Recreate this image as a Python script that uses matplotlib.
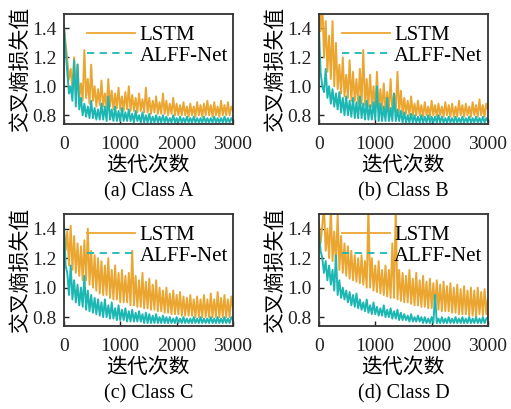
import numpy as np
import matplotlib
matplotlib.use("Agg")
import matplotlib.pyplot as plt
from matplotlib.lines import Line2D

plt.rcParams['font.family'] = ['Liberation Serif', 'Noto Sans CJK SC']

# colours
ORANGE = '#EAA631'
TEAL = '#1DB7B3'

# loss curves (x spread evenly over 0..3000 iterations)
lstm_a = [1.42, 1.30, 1.18, 1.05, 1.12, 0.98, 1.20, 0.95, 1.15, 0.92, 1.02, 0.90, 1.25, 0.92, 1.05, 0.88,
          1.15, 0.90, 1.00, 0.86, 0.98, 0.87, 1.04, 0.86, 0.95, 0.85, 1.05, 0.86, 0.97, 0.84, 0.95, 0.85,
          0.99, 0.84, 0.93, 0.83, 0.96, 0.84, 1.00, 0.83, 0.94, 0.83, 0.92, 0.82, 0.95, 0.83, 0.91, 0.82,
          0.99, 0.82, 0.92, 0.81, 0.90, 0.82, 0.93, 0.81, 0.89, 0.81, 0.95, 0.81, 0.90, 0.80, 0.88, 0.81,
          0.92, 0.80, 0.88, 0.80, 0.87, 0.80, 0.89, 0.80, 0.86, 0.79, 0.88, 0.80, 0.86, 0.79, 0.89, 0.80,
          0.87, 0.79, 0.88, 0.80, 0.90, 0.80, 0.87, 0.79, 0.89, 0.80, 0.86, 0.79, 0.90, 0.80, 0.87, 0.80,
          0.89, 0.80, 0.86, 0.83]
alff_a = [1.42, 1.25, 1.10, 0.95, 1.00, 0.90, 1.18, 0.86, 1.15, 0.84, 0.92, 0.80, 0.88, 0.79, 0.86, 0.78,
          0.90, 0.78, 0.85, 0.77, 0.84, 0.77, 0.88, 0.77, 0.86, 0.76, 0.93, 0.77, 0.84, 0.76, 0.86, 0.76,
          0.83, 0.76, 0.85, 0.76, 0.82, 0.76, 0.84, 0.76, 0.81, 0.75, 0.83, 0.76, 0.80, 0.75, 0.82, 0.75,
          0.80, 0.75, 0.81, 0.75, 0.79, 0.75, 0.80, 0.75, 0.79, 0.75, 0.80, 0.75, 0.79, 0.75, 0.78, 0.75,
          0.80, 0.75, 0.78, 0.75, 0.79, 0.75, 0.78, 0.75, 0.79, 0.75, 0.78, 0.75, 0.79, 0.75, 0.78, 0.75,
          0.78, 0.75, 0.79, 0.75, 0.78, 0.75, 0.78, 0.75, 0.79, 0.75, 0.78, 0.75, 0.78, 0.75, 0.79, 0.75,
          0.78, 0.75, 0.78, 0.76]

lstm_b = [1.55, 1.38, 1.60, 1.20, 1.45, 1.10, 1.35, 1.05, 1.45, 1.00, 1.30, 0.98, 1.15, 0.95, 1.20, 0.93,
          1.08, 0.92, 1.18, 0.90, 1.10, 0.90, 1.05, 0.88, 1.12, 0.88, 1.25, 0.87, 1.05, 0.86, 1.08, 0.86,
          1.00, 0.85, 1.10, 0.84, 0.98, 0.84, 1.02, 0.83, 0.96, 0.83, 1.05, 0.82, 0.95, 0.82, 1.10, 0.82,
          0.97, 0.81, 0.92, 0.81, 0.90, 0.80, 0.93, 0.80, 0.88, 0.80, 0.90, 0.80, 0.87, 0.79, 0.89, 0.80,
          0.86, 0.79, 0.90, 0.80, 0.87, 0.79, 0.88, 0.80, 0.86, 0.79, 0.89, 0.80, 0.87, 0.79, 0.88, 0.79,
          0.86, 0.79, 0.90, 0.80, 0.87, 0.79, 0.88, 0.80, 0.86, 0.79, 0.89, 0.80, 0.87, 0.79, 0.91, 0.80,
          0.87, 0.79, 0.88, 0.84]
alff_b = [1.42, 1.10, 1.00, 0.96, 1.12, 0.92, 1.00, 0.88, 0.98, 0.86, 0.95, 0.84, 0.96, 0.82, 0.92, 0.80,
          0.93, 0.80, 0.90, 0.79, 0.92, 0.78, 0.89, 0.78, 0.93, 0.78, 0.88, 0.77, 0.90, 0.77, 0.87, 0.77,
          0.89, 0.77, 1.00, 0.76, 0.88, 0.76, 0.86, 0.76, 0.92, 0.76, 0.85, 0.76, 0.95, 0.76, 0.84, 0.76,
          0.83, 0.75, 0.82, 0.75, 0.80, 0.75, 0.81, 0.75, 0.80, 0.75, 0.79, 0.75, 0.80, 0.75, 0.79, 0.75,
          0.80, 0.75, 0.79, 0.75, 0.79, 0.75, 0.80, 0.75, 0.79, 0.75, 0.78, 0.75, 0.79, 0.75, 0.78, 0.75,
          0.79, 0.75, 0.78, 0.75, 0.79, 0.75, 0.78, 0.75, 0.79, 0.75, 0.78, 0.75, 0.79, 0.75, 0.78, 0.75,
          0.79, 0.75, 0.78, 0.76]

lstm_c = [1.40, 1.25, 1.38, 1.15, 1.42, 1.12, 1.35, 1.10, 1.30, 1.08, 1.28, 1.05, 1.32, 1.05, 1.40, 1.02,
          1.25, 1.00, 1.22, 0.98, 1.20, 0.96, 1.18, 0.95, 1.15, 0.95, 1.20, 0.93, 1.12, 0.92, 1.15, 0.92,
          1.10, 0.90, 1.12, 0.90, 1.08, 0.90, 1.10, 0.88, 1.25, 0.88, 1.08, 0.87, 1.05, 0.87, 1.10, 0.86,
          1.04, 0.86, 1.06, 0.85, 1.02, 0.85, 1.05, 0.84, 1.00, 0.84, 0.98, 0.83, 1.00, 0.83, 0.96, 0.82,
          0.98, 0.82, 0.95, 0.82, 0.97, 0.81, 0.94, 0.81, 0.93, 0.81, 0.95, 0.81, 0.92, 0.80, 0.94, 0.80,
          0.92, 0.80, 0.95, 0.80, 0.92, 0.80, 0.96, 0.80, 0.92, 0.80, 0.97, 0.80, 0.93, 0.80, 0.95, 0.80,
          0.92, 0.80, 0.94, 0.86]
alff_c = [1.45, 1.15, 1.10, 0.95, 1.15, 0.92, 1.05, 0.90, 1.02, 0.88, 1.00, 0.87, 1.08, 0.85, 0.98, 0.84,
          0.95, 0.83, 0.93, 0.82, 0.92, 0.81, 0.90, 0.80, 0.92, 0.80, 0.88, 0.79, 0.90, 0.79, 0.86, 0.78,
          0.88, 0.78, 0.85, 0.78, 0.86, 0.77, 0.84, 0.77, 0.85, 0.77, 0.83, 0.77, 0.84, 0.77, 0.82, 0.76,
          0.83, 0.76, 0.82, 0.76, 0.81, 0.76, 0.82, 0.76, 0.80, 0.76, 0.81, 0.76, 0.80, 0.76, 0.80, 0.76,
          0.79, 0.76, 0.80, 0.76, 0.79, 0.76, 0.80, 0.76, 0.79, 0.76, 0.79, 0.76, 0.80, 0.76, 0.79, 0.76,
          0.80, 0.76, 0.79, 0.76, 0.79, 0.76, 0.80, 0.76, 0.79, 0.76, 0.80, 0.76, 0.79, 0.76, 0.80, 0.76,
          0.79, 0.76, 0.80, 0.78]

lstm_d = [1.45, 1.30, 1.42, 1.55, 1.25, 1.40, 1.20, 1.55, 1.18, 1.38, 1.15, 1.50, 1.12, 1.35, 1.10, 1.30,
          1.08, 1.28, 1.06, 1.25, 1.05, 1.22, 1.04, 1.20, 1.03, 1.22, 1.02, 1.18, 1.00, 1.55, 1.00, 1.20,
          0.98, 1.15, 0.97, 1.18, 0.96, 1.12, 0.95, 1.15, 0.94, 1.12, 0.93, 1.30, 0.93, 1.55, 0.92, 1.12,
          0.91, 1.10, 0.90, 1.08, 0.90, 1.12, 0.89, 1.06, 0.88, 1.10, 0.88, 1.05, 0.87, 1.08, 0.87, 1.04,
          0.86, 1.06, 0.86, 1.03, 0.85, 1.05, 0.85, 1.02, 0.84, 1.04, 0.84, 1.01, 0.84, 1.03, 0.83, 1.00,
          0.83, 1.02, 0.82, 0.99, 0.82, 1.01, 0.82, 0.98, 0.81, 1.00, 0.81, 0.98, 0.80, 1.00, 0.82, 0.97,
          0.81, 0.99, 0.82, 0.93]
alff_d = [1.40, 1.25, 1.20, 1.10, 1.18, 1.05, 1.15, 1.02, 1.12, 0.98, 1.22, 0.95, 1.05, 0.93, 1.00, 0.92,
          0.98, 0.90, 0.97, 0.88, 0.95, 0.87, 0.96, 0.86, 0.92, 0.85, 0.90, 0.84, 0.92, 0.83, 0.88, 0.82,
          0.90, 0.82, 0.87, 0.81, 0.86, 0.81, 0.88, 0.80, 0.85, 0.80, 0.86, 0.79, 0.84, 0.79, 0.85, 0.78,
          0.83, 0.78, 0.82, 0.78, 0.81, 0.77, 0.82, 0.77, 0.80, 0.77, 0.81, 0.77, 0.80, 0.76, 0.80, 0.76,
          0.79, 0.76, 0.80, 0.76, 0.95, 0.76, 0.79, 0.76, 0.80, 0.76, 0.79, 0.76, 0.80, 0.76, 0.79, 0.76,
          0.80, 0.76, 0.79, 0.76, 0.80, 0.76, 0.79, 0.76, 0.80, 0.76, 0.79, 0.76, 0.80, 0.76, 0.79, 0.76,
          0.80, 0.76, 0.79, 0.80]

captions = ['(a) Class A', '(b) Class B', '(c) Class C', '(d) Class D']
series = [(lstm_a, alff_a), (lstm_b, alff_b), (lstm_c, alff_c), (lstm_d, alff_d)]

# axes boxes in figure fractions (left, bottom, width, height)
boxes = [(0.125, 0.697, 0.331, 0.269), (0.624, 0.697, 0.331, 0.269),
         (0.125, 0.203, 0.331, 0.274), (0.624, 0.203, 0.331, 0.274)]

fig = plt.figure(figsize=(5.11, 4.09), dpi=100)

for box, (lstm, alff), cap in zip(boxes, series, captions):
    ax = fig.add_axes(box)
    ax.plot(np.linspace(0, 3000, len(lstm)), lstm, color=ORANGE, lw=1.4)
    ax.plot(np.linspace(0, 3000, len(alff)), alff, color=TEAL, lw=1.4)
    ax.set_xlim(0, 3000)
    ax.set_ylim(0.74, 1.5)
    ax.set_xticks([0, 1000, 2000, 3000])
    ax.set_yticks([0.8, 1.0, 1.2, 1.4])
    ax.set_yticklabels(['0.8', '1.0', '1.2', '1.4'])
    ax.tick_params(direction='in', length=3.5, width=1, labelsize=14, pad=5, colors='#222222')
    ax.tick_params(axis='x', pad=9)
    for s in ax.spines.values():
        s.set_linewidth(1.3)
        s.set_color('#333333')
    ax.set_xlabel('迭代次数', fontsize=15, labelpad=2)
    ax.set_ylabel('交叉熵损失值', fontsize=15, labelpad=1)
    # legend: teal drawn dashed in the key
    handles = [Line2D([], [], color=ORANGE, lw=1.3),
               Line2D([], [], color=TEAL, lw=1.3, ls=(0, (4, 3)))]
    ax.legend(handles, ['LSTM', 'ALFF-Net'], loc='upper right', frameon=False,
              fontsize=15, handlelength=2.3, handletextpad=0.2, labelspacing=0.05,
              borderaxespad=0.1, bbox_to_anchor=(1.03, 0.99))
    x0, y0, w, h = box
    fig.text(x0 + w / 2, y0 - 0.165, cap, ha='center', va='center', fontsize=14.5)

fig.savefig('out.png', dpi=100)
